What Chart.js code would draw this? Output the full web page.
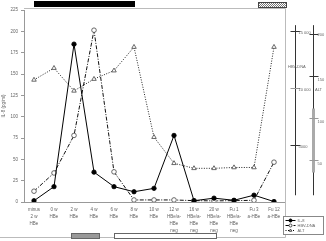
<!DOCTYPE html>
<html>
<head>
<meta charset="utf-8">
<script src="https://cdn.jsdelivr.net/npm/chart.js@4.4.1/dist/chart.umd.min.js"></script>
<style>
  html, body { margin: 0; padding: 0; background: #fff; }
  #wrap { width: 326px; height: 241px; }
</style>
</head>
<body>
<div id="wrap"><canvas id="chart" width="326" height="241"></canvas></div>
<script>
// time points (x categories)
var categories = [
  ['minus', '2 w', 'HBe'], ['0 w', 'HBe'], ['2 w', 'HBe'], ['4 w', 'HBe'],
  ['6 w', 'HBe'], ['8 w', 'HBe'], ['10 w', 'HBe'],
  ['12 w', 'HBe/a-', 'HBe', 'neg'], ['16 w', 'HBe/a-', 'HBe', 'neg'], ['20 w', 'HBe/a-', 'HBe', 'neg'],
  ['Fu 1', 'HBe/a-', 'HBe', 'neg'], ['Fu 3', 'a-HBe'], ['Fu 12', 'a-HBe']
];
// series
var il8    = [1.5, 18, 185, 35, 18, 12, 16, 78, 1.5, 4.5, 2, 8, 0.5];
var hbvDna = [950, 2550, 5850, 15100, 2650, 180, 180, 180, 120, 100, 120, 150, 3500];
var alt    = [145, 159, 132, 146, 156, 184, 77, 46, 40, 40, 41, 41, 184];
// axes
var il8Max = 225, il8Step = 25;
var hbvMax = 16875;
var altMax = 228;
var hbvTicks = [15000, 10000, 5000];
var hbvTickText = ['15 000', '10 000', '5000'];
var altTicks = [200, 150, 100, 50];
// therapy periods (category index ranges)
var periodBlack = [0, 5.05];
var periodGray = [1.85, 3.25];
var periodWhite = [4, 9.1];
var periodHatch = [11.2, 12.6];

var FONT = "'Liberation Sans', Arial, sans-serif";
var TXT = '#666';

function hatchPattern(ctx) {
  var p = document.createElement('canvas');
  p.width = 2; p.height = 2;
  var pc = p.getContext('2d');
  pc.fillStyle = '#fff'; pc.fillRect(0, 0, 2, 2);
  pc.fillStyle = '#777'; pc.fillRect(0, 0, 1, 1); pc.fillRect(1, 1, 1, 1);
  return ctx.createPattern(p, 'repeat');
}

var decor = {
  id: 'decor',
  afterDraw: function (chart) {
    var ctx = chart.ctx, x = chart.scales.x, y = chart.scales.y;
    var yh = chart.scales.yHbv, ya = chart.scales.yAlt;
    var right = x.right + 1.5;
    ctx.save();
    // frame
    ctx.strokeStyle = '#bbb'; ctx.lineWidth = 1;
    ctx.beginPath();
    ctx.moveTo(y.right, 8.5); ctx.lineTo(right, 8.5);
    ctx.lineTo(right, 237.5); ctx.lineTo(0, 237.5);
    ctx.stroke();

    // period bars
    function px(v) { return x.getPixelForValue(v); }
    ctx.fillStyle = '#000';
    ctx.fillRect(px(periodBlack[0]), 1, px(periodBlack[1]) - px(periodBlack[0]), 6);
    ctx.fillStyle = hatchPattern(ctx);
    ctx.fillRect(px(periodHatch[0]), 2.5, px(periodHatch[1]) - px(periodHatch[0]), 5);
    ctx.strokeStyle = '#444';
    ctx.strokeRect(px(periodHatch[0]) + 0.5, 2.5, px(periodHatch[1]) - px(periodHatch[0]), 5);
    ctx.fillStyle = '#999';
    ctx.fillRect(px(periodGray[0]), 233, px(periodGray[1]) - px(periodGray[0]), 6);
    ctx.strokeStyle = '#666';
    ctx.strokeRect(px(periodGray[0]) + 0.5, 233.5, px(periodGray[1]) - px(periodGray[0]), 5);
    ctx.fillStyle = '#fff';
    ctx.fillRect(px(periodWhite[0]), 233, px(periodWhite[1]) - px(periodWhite[0]), 6);
    ctx.strokeRect(px(periodWhite[0]) + 0.5, 233.5, px(periodWhite[1]) - px(periodWhite[0]), 5);

    // right-hand scales: HBV-DNA and ALT
    var hx = 295.5, ax = 313.5;
    var top = ya.getPixelForValue(210), bot = ya.getPixelForValue(8);
    ctx.strokeStyle = '#333'; ctx.lineWidth = 1;
    ctx.beginPath();
    ctx.moveTo(hx, top); ctx.lineTo(hx, bot);
    ctx.moveTo(ax, top); ctx.lineTo(ax, bot);
    ctx.stroke();
    ctx.strokeStyle = '#aaa'; ctx.lineWidth = 3;
    ctx.beginPath();
    ctx.moveTo(ax, ya.getPixelForValue(111)); ctx.lineTo(ax, ya.getPixelForValue(35));
    ctx.stroke();

    ctx.font = '4px ' + FONT;
    ctx.textBaseline = 'middle';
    ctx.textAlign = 'left';
    hbvTicks.forEach(function (v, i) {
      var ty = Math.round(yh.getPixelForValue(v)) + 0.5;
      ctx.strokeStyle = i === 1 ? '#999' : '#333'; ctx.lineWidth = 1;
      ctx.beginPath(); ctx.moveTo(hx - 5, ty); ctx.lineTo(hx + 5, ty); ctx.stroke();
      ctx.fillStyle = TXT;
      ctx.fillText(hbvTickText[i], hx + 3, ty + 1.5);
    });
    altTicks.forEach(function (v, i) {
      var ty = Math.round(ya.getPixelForValue(v)) + 0.5;
      ctx.strokeStyle = i >= 2 ? '#999' : '#333'; ctx.lineWidth = 1;
      ctx.beginPath(); ctx.moveTo(ax - 4, ty); ctx.lineTo(ax + 5, ty); ctx.stroke();
      ctx.fillStyle = TXT;
      ctx.fillText(String(v), ax + 4, ty + (i === 0 ? 0 : 3));
    });
    ctx.fillStyle = TXT;
    ctx.fillText('HBV-DNA', 288, 66.5);
    ctx.fillText('ALT', 315, 90);

    // legend
    var lx = 283.5, ly = 216.5, lw = 40, lh = 18;
    ctx.fillStyle = '#fff';
    ctx.fillRect(lx, ly, lw, lh);
    ctx.strokeStyle = '#888'; ctx.lineWidth = 1;
    ctx.strokeRect(lx, ly, lw, lh);
    chart.data.datasets.forEach(function (ds, i) {
      var ry = ly + 4 + i * 5;
      ctx.strokeStyle = '#000'; ctx.lineWidth = 1;
      ctx.setLineDash(ds.borderDash || []);
      ctx.beginPath(); ctx.moveTo(lx + 2, ry); ctx.lineTo(lx + 12, ry); ctx.stroke();
      ctx.setLineDash([]);
      ctx.fillStyle = ds.pointBackgroundColor;
      ctx.strokeStyle = ds.pointBorderColor;
      Chart.helpers.drawPoint(ctx, {
        pointStyle: ds.pointStyle, radius: 1.5, borderWidth: 0.8
      }, lx + 7, ry);
      ctx.fillStyle = TXT;
      ctx.fillText(ds.label, lx + 14, ry + 0.5);
    });
    ctx.restore();
  }
};

new Chart(document.getElementById('chart').getContext('2d'), {
  type: 'line',
  data: {
    labels: categories,
    datasets: [
      { label: 'IL-8', data: il8, yAxisID: 'y', borderColor: '#000', borderWidth: 1,
        pointStyle: 'circle', pointRadius: 2.2, pointBackgroundColor: '#000', pointBorderColor: '#000', pointBorderWidth: 0.8 },
      { label: 'HBV-DNA', data: hbvDna, yAxisID: 'yHbv', borderColor: '#111', borderWidth: 1, borderDash: [4, 1.5, 1, 1.5],
        pointStyle: 'circle', pointRadius: 2.3, pointBackgroundColor: '#fff', pointBorderColor: '#444', pointBorderWidth: 0.8 },
      { label: 'ALT', data: alt, yAxisID: 'yAlt', borderColor: '#222', borderWidth: 1, borderDash: [1, 1.5],
        pointStyle: 'triangle', pointRadius: 2.6, pointBackgroundColor: '#fff', pointBorderColor: '#444', pointBorderWidth: 0.8 }
    ]
  },
  options: {
    responsive: false, animation: false, devicePixelRatio: 1,
    layout: { padding: { top: 10, right: 42, left: 0, bottom: 0 } },
    plugins: { legend: { display: false }, tooltip: { enabled: false } },
    elements: { line: { tension: 0 } },
    scales: {
      x: {
        offset: true,
        grid: { display: false, drawTicks: false },
        border: { color: '#999' },
        ticks: { font: { family: FONT, size: 4.5, lineHeight: 1.55 }, color: TXT, padding: 4, maxRotation: 0, autoSkip: false },
        afterFit: function (s) { s.height = 39; }
      },
      y: {
        min: 0, max: il8Max,
        grid: { drawOnChartArea: false, tickLength: 3, color: '#999' },
        border: { color: '#999' },
        ticks: { stepSize: il8Step, font: { family: FONT, size: 4.5 }, color: TXT, padding: 3 },
        title: { display: true, text: 'IL-8 (pg/ml)', font: { family: FONT, size: 4.5 }, color: TXT, padding: 1 },
        afterFit: function (s) { s.width = 24; }
      },
      yHbv: { display: false, min: 0, max: hbvMax },
      yAlt: { display: false, min: 0, max: altMax }
    }
  },
  plugins: [decor]
});
</script>
</body>
</html>
